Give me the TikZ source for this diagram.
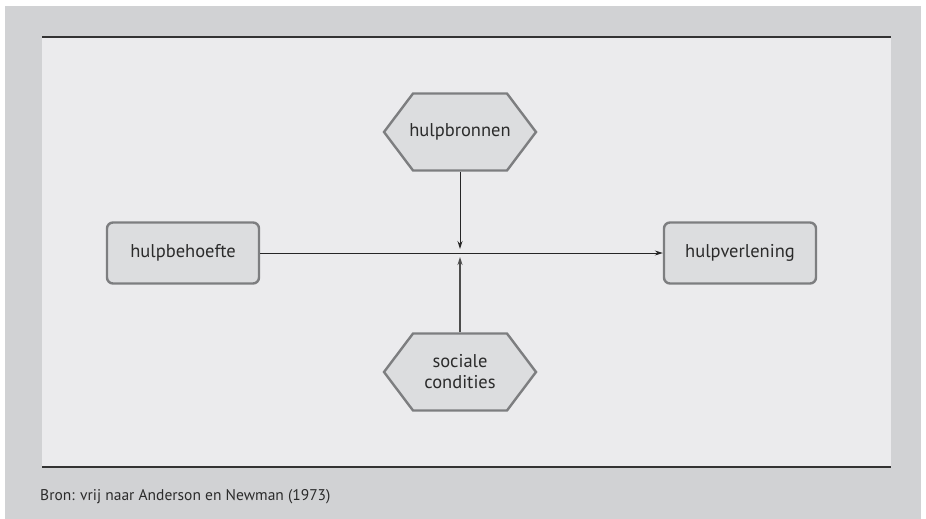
\documentclass[tikz,border=0pt]{standalone}
\usepackage{fontspec}
\setmainfont{PT Sans}
\usetikzlibrary{arrows.meta,shapes.symbols}

\definecolor{outergray}{HTML}{D1D2D4}
\definecolor{panelgray}{HTML}{EBEBED}
\definecolor{boxgray}{HTML}{DCDDDF}
\definecolor{edgegray}{HTML}{7D7E80}
\definecolor{inkgray}{HTML}{2B2B2B}

\tikzset{
  factor/.style={rectangle, rounded corners=6pt, draw=edgegray, line width=2.4pt,
    fill=boxgray, text=inkgray, minimum width=152pt, minimum height=61pt,
    font=\fontsize{18.5}{21}\selectfont},
  source/.style={signal, signal to=east and west, signal pointer angle=106,
    draw=edgegray, line width=2.4pt, fill=boxgray, text=inkgray, inner xsep=-6pt,
    minimum width=152pt, minimum height=77pt, align=center,
    font=\fontsize{18.5}{21}\selectfont},
  link/.style={line width=0.9pt, draw=black!85, -{Stealth[length=8pt,width=5pt]}}
}

\begin{document}
\begin{tikzpicture}[x=1pt,y=-1pt]
\useasboundingbox (0,0) rectangle (926,519);
% Frame
\fill[outergray] (5,6) rectangle (921,519);
\fill[panelgray] (42,37) rectangle (891,467);
\draw[line width=1.6pt, black!80] (42,37) -- (891,37);
\draw[line width=1.2pt, black!80] (42,467) -- (891,467);
\node[anchor=west, inner sep=0pt, text=inkgray, font=\fontsize{15.5}{17}\selectfont] (bron) at (40,497) {Bron: vrij naar Anderson en Newman (1973)};

% Factors
\node[factor] (behoefte) at (183,253) {hulpbehoefte};
\node[factor] (verlening) at (740,253) {hulpverlening};
\node[source] (bronnen) at (460,132) {hulpbronnen};
\node[source] (condities) at (460,372) {sociale\\condities};

% Arrows
\draw[link] (behoefte) -- (verlening);
\coordinate (top) at (460,249);
\coordinate (bot) at (460,257);
\draw[link] (bronnen.south) -- (top);
\draw[link, draw=black!70, line width=1.2pt] (condities.north) -- (bot);
\end{tikzpicture}
\end{document}
